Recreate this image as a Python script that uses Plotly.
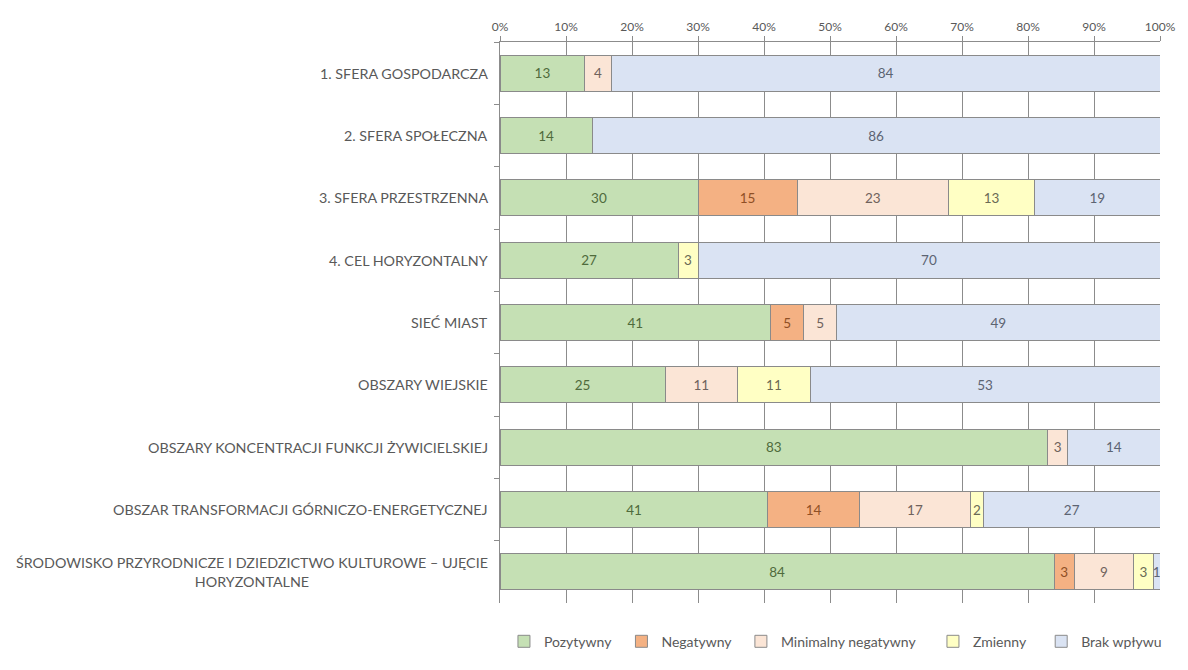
import plotly.graph_objects as go

categories = [
    "1. SFERA GOSPODARCZA",
    "2. SFERA SPOŁECZNA",
    "3. SFERA PRZESTRZENNA",
    "4. CEL HORYZONTALNY",
    "SIEĆ MIAST",
    "OBSZARY WIEJSKIE",
    "OBSZARY KONCENTRACJI FUNKCJI ŻYWICIELSKIEJ",
    "OBSZAR TRANSFORMACJI GÓRNICZO-ENERGETYCZNEJ",
    "ŚRODOWISKO PRZYRODNICZE I DZIEDZICTWO KULTUROWE – UJĘCIE<br>HORYZONTALNE",
]

pozytywny = [13, 14, 30, 27, 41, 25, 83, 41, 84]
negatywny = [0, 0, 15, 0, 5, 0, 0, 14, 3]
minimalny_negatywny = [4, 0, 23, 0, 5, 11, 3, 17, 9]
zmienny = [0, 0, 13, 3, 0, 11, 0, 2, 3]
brak_wplywu = [84, 86, 19, 70, 49, 53, 14, 27, 1]

series = [
    ("Pozytywny", pozytywny, "#c5e0b4", "#4f6b3c"),
    ("Negatywny", negatywny, "#f4b183", "#8f4f25"),
    ("Minimalny negatywny", minimalny_negatywny, "#fbe5d6", "#6f625c"),
    ("Zmienny", zmienny, "#ffffc4", "#6a6a55"),
    ("Brak wpływu", brak_wplywu, "#dae3f3", "#5c6472"),
]

# legend entries are placed individually along the bottom
legend_x = [0.006, 0.184, 0.365, 0.656, 0.820]
legend_ids = ["legend", "legend2", "legend3", "legend4", "legend5"]

FONT = "Lato, 'Open Sans', sans-serif"
GRID = "#8c8c8c"

fig = go.Figure()
for (name, vals, color, tcolor), lid in zip(series, legend_ids):
    xs = [v if v else None for v in vals]
    txt = [str(v) if v else "" for v in vals]
    fig.add_trace(go.Bar(
        y=categories, x=xs, name=name, orientation="h",
        marker=dict(color=color, line=dict(color="#8a8a8a", width=1)),
        text=txt, textposition="inside", insidetextanchor="middle",
        constraintext="none",
        textfont=dict(family=FONT, size=13.5, color=tcolor),
        legend=lid, showlegend=True, hoverinfo="skip",
    ))

legend_common = dict(
    orientation="h", y=-0.069, yanchor="middle", xanchor="left",
    font=dict(family=FONT, size=14, color="#595959"),
    bgcolor="rgba(0,0,0,0)", itemwidth=30, visible=True,
)
layout_legends = {}
for lid, lx in zip(legend_ids, legend_x):
    layout_legends[lid] = dict(legend_common, x=lx)

annotations = [
    dict(xref="paper", x=0, xanchor="right", xshift=-10,
         yref="y", y=c, yanchor="middle", text=c, showarrow=False,
         align="center", font=dict(family=FONT, size=14.3, color="#595959"))
    for c in categories
]

fig.update_layout(
    barmode="stack", barnorm="percent", bargap=0.425,
    width=1188, height=670,
    margin=dict(l=500, r=20, t=42, b=48),
    paper_bgcolor="white", plot_bgcolor="white",
    font=dict(family=FONT, color="#595959"),
    showlegend=True,
    uniformtext=dict(minsize=13, mode="show"),
    annotations=annotations,
    **layout_legends,
)

fig.update_xaxes(
    side="top", range=[0, 100], tick0=0, dtick=10, ticksuffix="%",
    showgrid=True, gridcolor=GRID, gridwidth=1,
    showline=True, linecolor=GRID, linewidth=1,
    ticks="outside", ticklen=5, tickcolor=GRID,
    tickfont=dict(family=FONT, size=12, color="#595959"),
    zeroline=False, fixedrange=True,
)
fig.update_yaxes(
    type="category", autorange="reversed",
    showticklabels=False, showgrid=False,
    showline=True, linecolor=GRID, linewidth=1,
    ticks="outside", tickson="boundaries", ticklen=5, tickcolor=GRID,
    zeroline=False, fixedrange=True,
)

fig.write_html("out.html")
